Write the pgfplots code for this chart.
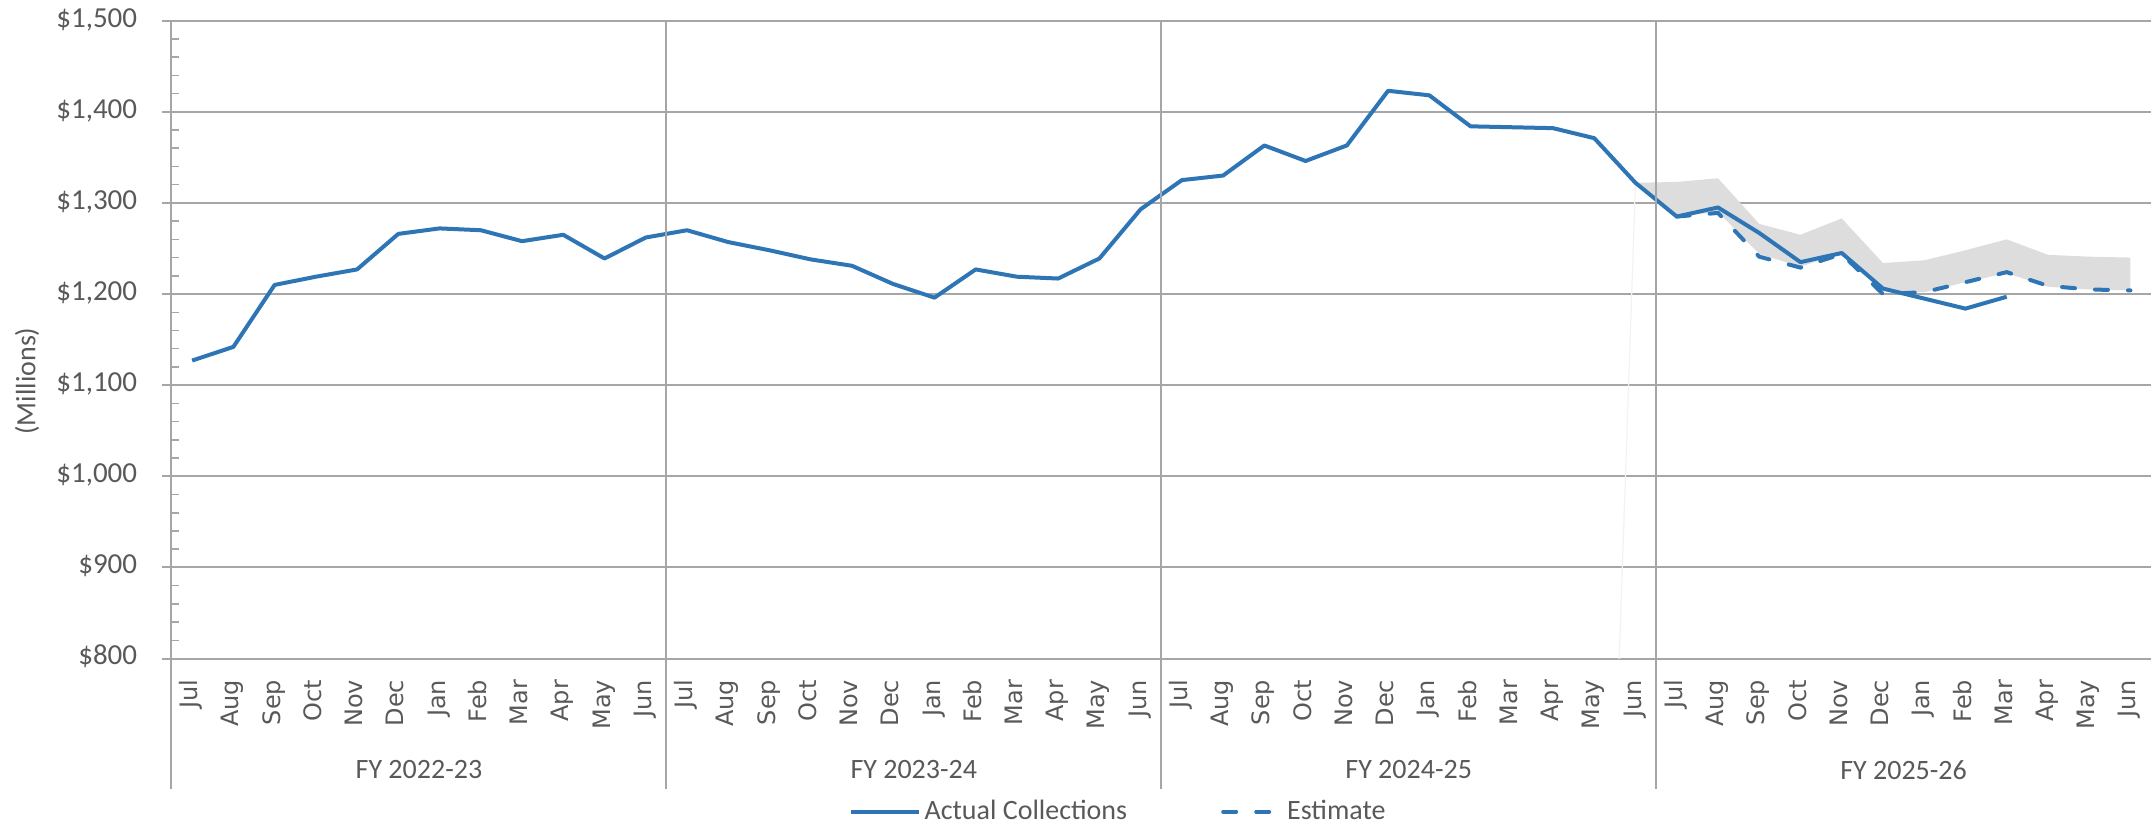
\documentclass[border=0pt]{standalone}
\usepackage{fontspec}
\setmainfont{Carlito}
\newfontfamily\monthfont{DejaVu Sans}
\usepackage{pgfplots}
\pgfplotsset{compat=1.18}
\definecolor{lineblue}{HTML}{2E75B6}
\definecolor{bandgray}{HTML}{DDDDDD}
\definecolor{gridgray}{HTML}{A6A6A6}
\definecolor{textgray}{HTML}{595959}
\pgfplotsset{
  solidleg/.style={legend image code/.code={\draw[##1] (0pt,0pt) -- (34pt,0pt);}},
  dashleg/.style={legend image code/.code={\draw[##1] (1pt,0pt) -- (30pt,0pt);}},
}
\begin{document}
\begin{tikzpicture}
\begin{axis}[
  at={(0,0)}, anchor=south west, scale only axis,
  width=989.75pt, height=319pt,
  xmin=-0.5, xmax=47.5, ymin=800, ymax=1500,
  clip mode=individual,
  axis line style={draw=none},
  ytick={800,900,...,1500},
  yticklabels={\$800,\$900,\$1{,}000,\$1{,}100,\$1{,}200,\$1{,}300,\$1{,}400,\$1{,}500},
  ymajorgrids, grid style={gridgray, line width=1pt},
  ytick pos=left, tick align=outside, major tick length=4.5pt,
  y tick style={gridgray, line width=1pt},
  yticklabel style={font=\fontsize{14.5}{16}\selectfont, text=textgray, inner sep=0pt, anchor=east},
  yticklabel shift=12.5pt,
  xtick={0,...,47},
  xticklabels={Jul,Aug,Sep,Oct,Nov,Dec,Jan,Feb,Mar,Apr,May,Jun,
               Jul,Aug,Sep,Oct,Nov,Dec,Jan,Feb,Mar,Apr,May,Jun,
               Jul,Aug,Sep,Oct,Nov,Dec,Jan,Feb,Mar,Apr,May,Jun,
               Jul,Aug,Sep,Oct,Nov,Dec,Jan,Feb,Mar,Apr,May,Jun},
  x tick style={draw=none},
  typeset ticklabels with strut,
  xticklabel style={font=\monthfont\fontsize{12}{14}\selectfont, text=textgray, rotate=90, anchor=east, inner sep=0pt},
  xticklabel shift=6pt,
  legend columns=2,
  legend style={at={(0.4787,-0.240)}, anchor=center, draw=none, fill=none,
    font=\fontsize{14}{16}\selectfont, text=textgray,
    /tikz/every even column/.append style={column sep=45pt}},
  legend cell align=left,
]
% band
\addplot[forget plot, draw=none, fill=bandgray] coordinates {
  (35,1322) (36,1323) (37,1327) (38,1277) (39,1265) (40,1283) (41,1234)
  (42,1237) (43,1248) (44,1260) (45,1243) (46,1241) (47,1240)
  (47,1204) (46,1205) (45,1208) (44,1223) (43,1213) (42,1202) (41,1203)
  (40,1245) (39,1230) (38,1244) (37,1290) (36,1285) (35,1322)} -- cycle;
\addplot[forget plot, color=black!5, line width=0.6pt] coordinates {(34,0) (35,1322)};
% actual
\addplot[lineblue, line width=2pt, line join=round, solidleg] coordinates {
  (0,1127) (1,1142) (2,1210) (3,1219) (4,1227) (5,1266) (6,1272) (7,1270) (8,1258) (9,1265) (10,1239) (11,1262)
  (12,1270) (13,1257) (14,1248) (15,1238) (16,1231) (17,1211) (18,1196) (19,1227) (20,1219) (21,1217) (22,1239) (23,1293)
  (24,1325) (25,1330) (26,1363) (27,1346) (28,1363) (29,1423) (30,1418) (31,1384) (32,1383) (33,1382) (34,1371) (35,1322)
  (36,1285) (37,1295) (38,1267) (39,1235) (40,1245) (41,1206) (42,1195) (43,1184) (44,1197)};
\addlegendentry{Actual Collections}
% estimate
\addplot[lineblue, line width=2pt, line cap=round, dash pattern=on 6.5pt off 10pt, dashleg] coordinates {
  (36,1285) (37,1289) (38,1241) (39,1229) (40,1244) (41,1200) (42,1202) (43,1213) (44,1224) (45,1209) (46,1205) (47,1204)};
\addlegendentry{Estimate}
% separators
\draw[gridgray, line width=1pt] (axis cs:-0.5,1500) -- ([yshift=-65.2pt]axis cs:-0.5,800);
\draw[gridgray, line width=1pt] (axis cs:11.5,1500) -- ([yshift=-65.2pt]axis cs:11.5,800);
\draw[gridgray, line width=1pt] (axis cs:23.5,1500) -- ([yshift=-65.2pt]axis cs:23.5,800);
\draw[gridgray, line width=1pt] (axis cs:35.5,1500) -- ([yshift=-65.2pt]axis cs:35.5,800);
\node[font=\fontsize{14}{16}\selectfont, text=textgray] at ([yshift=-55.7pt]axis cs:5.5,800) {FY 2022-23};
\node[font=\fontsize{14}{16}\selectfont, text=textgray] at ([yshift=-55.7pt]axis cs:17.5,800) {FY 2023-24};
\node[font=\fontsize{14}{16}\selectfont, text=textgray] at ([yshift=-55.7pt]axis cs:29.5,800) {FY 2024-25};
\node[font=\fontsize{14}{16}\selectfont, text=textgray] at ([yshift=-55.7pt]axis cs:41.5,800) {FY 2025-26};
\end{axis}
\begin{axis}[
  at={(0,0)}, anchor=south west, scale only axis,
  width=989.75pt, height=319pt,
  xmin=-0.5, xmax=47.5, ymin=800, ymax=1500,
  axis line style={draw=none}, xtick=\empty,
  ytick={820,840,860,880,920,940,960,980,1020,1040,1060,1080,1120,1140,1160,1180,1220,1240,1260,1280,1320,1340,1360,1380,1420,1440,1460,1480},
  yticklabels={}, ytick pos=left, tick align=inside, major tick length=3.5pt,
  y tick style={gridgray, line width=0.75pt},
]
\end{axis}
\node[rotate=90, font=\fontsize{14}{16}\selectfont, text=textgray] at (-72.25pt,138.8pt) {(Millions)};
\pgfresetboundingbox
\path[use as bounding box] (-85.75pt,-83.7pt) rectangle (989.75pt,329.3pt);
\end{tikzpicture}
\end{document}
